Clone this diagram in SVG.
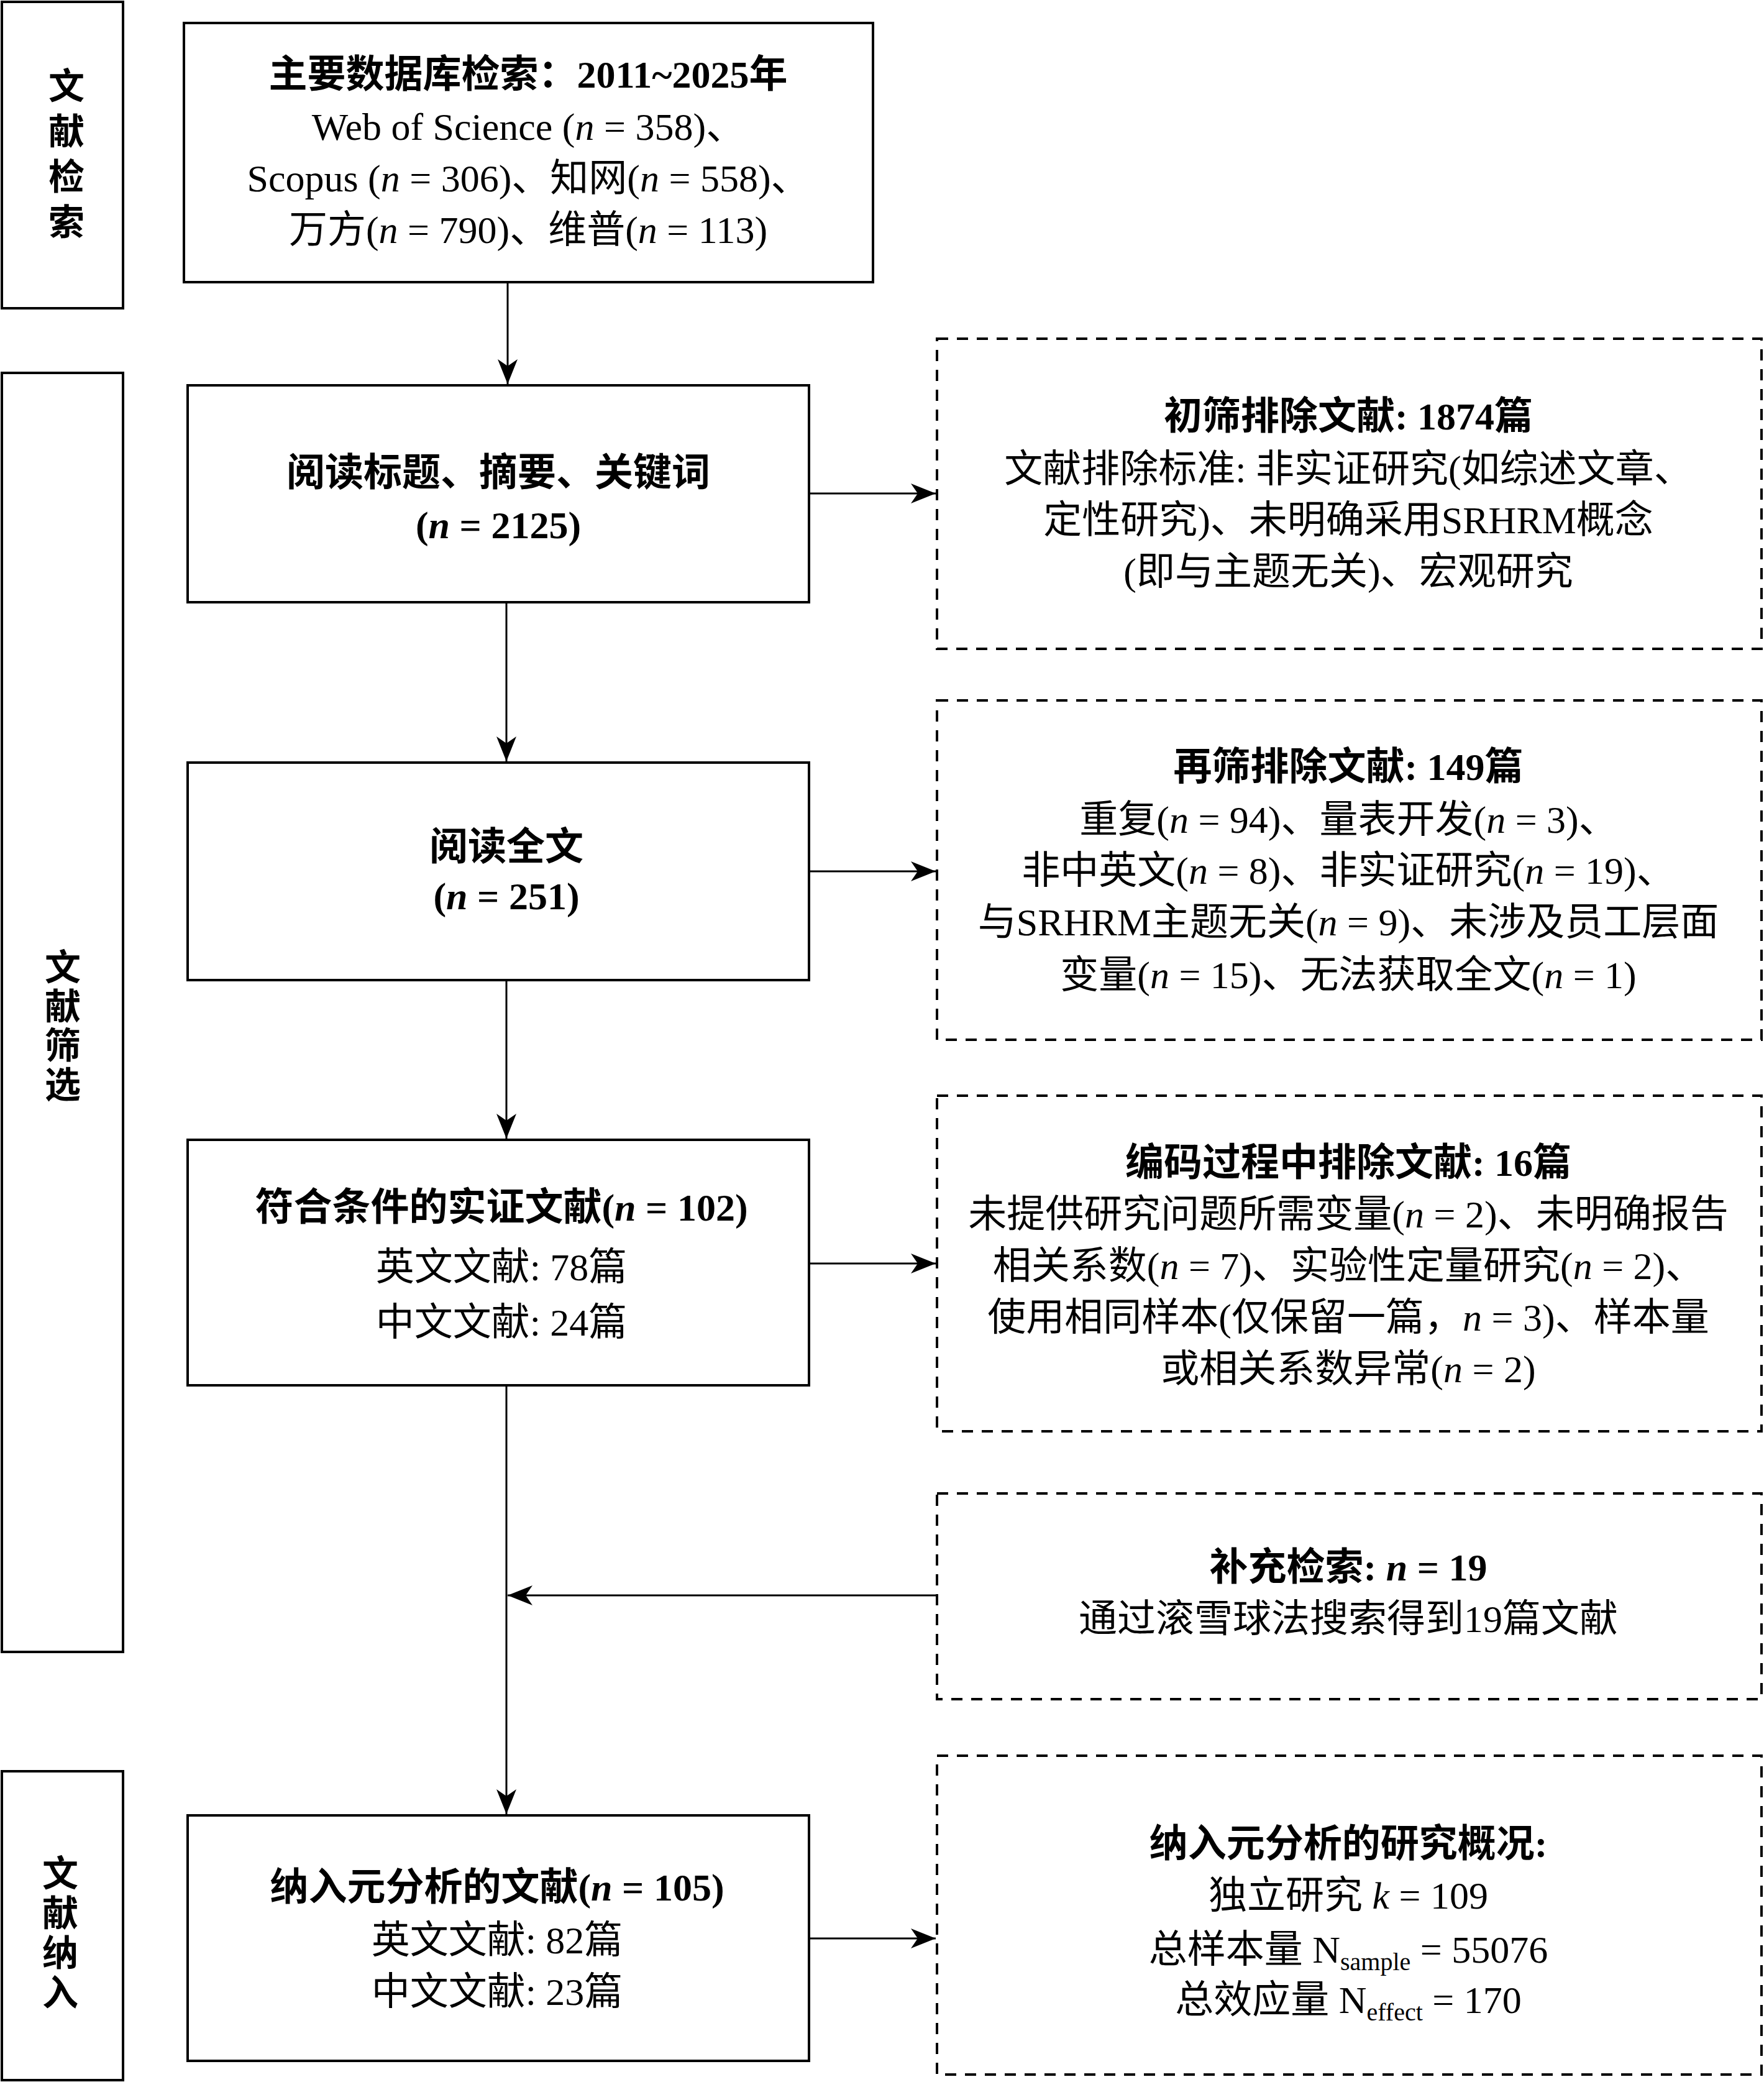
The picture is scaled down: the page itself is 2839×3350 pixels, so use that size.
<svg xmlns="http://www.w3.org/2000/svg" width="2839" height="3350" viewBox="0 0 2839 3350">
<style>
.box{fill:#fff;stroke:#000;stroke-width:4}
.dbox{fill:#fff;stroke:#000;stroke-width:4;stroke-dasharray:18 14}
.t{font-family:"Liberation Serif","Noto Sans CJK SC",serif;font-size:62px;text-anchor:middle;fill:#000}
.b{font-weight:bold}
.i{font-style:italic}
.side{font-family:"Noto Sans CJK SC",sans-serif;font-weight:bold;font-size:58px;text-anchor:start;fill:#000;writing-mode:vertical-rl;text-orientation:upright}
.conn{stroke:#000;stroke-width:3;fill:none}
</style>
<defs>
<marker id="arr" markerUnits="userSpaceOnUse" markerWidth="44" markerHeight="36" viewBox="-42 -18 44 36" refX="0" refY="0" orient="auto">
<path d="M0,0 L-40,-16 L-29,0 L-40,16 Z" fill="#000"/>
</marker>
</defs>
<rect width="2839" height="3350" fill="#fff"/>

<g id="stage-retrieval">
<rect class="box" x="3" y="3" width="195" height="493"/>
<text class="side" x="107" y="108" letter-spacing="15">文献检索</text>
</g>
<g id="stage-screening">
<rect class="box" x="3" y="600" width="195" height="2058"/>
<text class="side" x="101" y="1526" letter-spacing="5">文献筛选</text>
</g>
<g id="stage-inclusion">
<rect class="box" x="3" y="2850" width="195" height="497"/>
<text class="side" x="97" y="2984" letter-spacing="6">文献纳入</text>
</g>

<g id="connectors">
<line class="conn" x1="817" y1="454" x2="817" y2="618" marker-end="url(#arr)"/>
<line class="conn" x1="815" y1="969" x2="815" y2="1225" marker-end="url(#arr)"/>
<line class="conn" x1="815" y1="1577" x2="815" y2="1832" marker-end="url(#arr)"/>
<line class="conn" x1="815" y1="2229" x2="815" y2="2919" marker-end="url(#arr)"/>
<line class="conn" x1="1508" y1="2567" x2="817" y2="2567" marker-end="url(#arr)"/>
<line class="conn" x1="1302" y1="794" x2="1506" y2="794" marker-end="url(#arr)"/>
<line class="conn" x1="1302" y1="1402" x2="1506" y2="1402" marker-end="url(#arr)"/>
<line class="conn" x1="1302" y1="2033" x2="1506" y2="2033" marker-end="url(#arr)"/>
<line class="conn" x1="1302" y1="3119" x2="1506" y2="3119" marker-end="url(#arr)"/>
</g>

<g id="search">
<rect class="box" x="296" y="37" width="1109" height="417"/>
<text class="t b" x="850" y="141">主要数据库检索：2011~2025年</text>
<text class="t" x="850" y="225">Web of Science (<tspan class="i">n</tspan> = 358)、</text>
<text class="t" x="850" y="308">Scopus (<tspan class="i">n</tspan> = 306)、知网(<tspan class="i">n</tspan> = 558)、</text>
<text class="t" x="850" y="391">万方(<tspan class="i">n</tspan> = 790)、维普(<tspan class="i">n</tspan> = 113)</text>
</g>

<g id="title-screen">
<rect class="box" x="302" y="620" width="1000" height="349"/>
<text class="t b" x="802" y="782">阅读标题、摘要、关键词</text>
<text class="t b" x="802" y="866">(<tspan class="i">n</tspan> = 2125)</text>
</g>

<g id="fulltext">
<rect class="box" x="302" y="1227" width="1000" height="350"/>
<text class="t b" x="815" y="1384">阅读全文</text>
<text class="t b" x="815" y="1463">(<tspan class="i">n</tspan> = 251)</text>
</g>

<g id="eligible">
<rect class="box" x="302" y="1834" width="1000" height="395"/>
<text class="t b" x="807" y="1964">符合条件的实证文献(<tspan class="i">n</tspan> = 102)</text>
<text class="t" x="807" y="2060">英文文献: 78篇</text>
<text class="t" x="807" y="2149">中文文献: 24篇</text>
</g>

<g id="included">
<rect class="box" x="302" y="2921" width="1000" height="395"/>
<text class="t b" x="800" y="3058">纳入元分析的文献(<tspan class="i">n</tspan> = 105)</text>
<text class="t" x="800" y="3143">英文文献: 82篇</text>
<text class="t" x="800" y="3226">中文文献: 23篇</text>
</g>

<g id="excl-initial">
<rect class="dbox" x="1508" y="545" width="1327" height="499"/>
<text class="t b" x="2170" y="691">初筛排除文献: 1874篇</text>
<text class="t" x="2170" y="776">文献排除标准: 非实证研究(如综述文章、</text>
<text class="t" x="2170" y="858">定性研究)、未明确采用SRHRM概念</text>
<text class="t" x="2170" y="941">(即与主题无关)、宏观研究</text>
</g>

<g id="excl-second">
<rect class="dbox" x="1508" y="1127" width="1327" height="546"/>
<text class="t b" x="2170" y="1255">再筛排除文献: 149篇</text>
<text class="t" x="2170" y="1340">重复(<tspan class="i">n</tspan> = 94)、量表开发(<tspan class="i">n</tspan> = 3)、</text>
<text class="t" x="2170" y="1422">非中英文(<tspan class="i">n</tspan> = 8)、非实证研究(<tspan class="i">n</tspan> = 19)、</text>
<text class="t" x="2170" y="1505">与SRHRM主题无关(<tspan class="i">n</tspan> = 9)、未涉及员工层面</text>
<text class="t" x="2170" y="1590">变量(<tspan class="i">n</tspan> = 15)、无法获取全文(<tspan class="i">n</tspan> = 1)</text>
</g>

<g id="excl-coding">
<rect class="dbox" x="1508" y="1763" width="1327" height="540"/>
<text class="t b" x="2170" y="1892">编码过程中排除文献: 16篇</text>
<text class="t" x="2170" y="1975">未提供研究问题所需变量(<tspan class="i">n</tspan> = 2)、未明确报告</text>
<text class="t" x="2170" y="2058">相关系数(<tspan class="i">n</tspan> = 7)、实验性定量研究(<tspan class="i">n</tspan> = 2)、</text>
<text class="t" x="2170" y="2141">使用相同样本(仅保留一篇，<tspan class="i">n</tspan> = 3)、样本量</text>
<text class="t" x="2170" y="2224">或相关系数异常(<tspan class="i">n</tspan> = 2)</text>
</g>

<g id="supplement">
<rect class="dbox" x="1508" y="2403" width="1327" height="331"/>
<text class="t b" x="2170" y="2543">补充检索: <tspan class="i">n</tspan> = 19</text>
<text class="t" x="2170" y="2626">通过滚雪球法搜索得到19篇文献</text>
</g>

<g id="summary">
<rect class="dbox" x="1508" y="2825" width="1327" height="513"/>
<text class="t b" x="2170" y="2988">纳入元分析的研究概况:</text>
<text class="t" x="2170" y="3071">独立研究 <tspan class="i">k</tspan> = 109</text>
<text class="t" x="2170" y="3158">总样本量 N<tspan font-size="40" dy="12">sample</tspan><tspan dy="-12"> = 55076</tspan></text>
<text class="t" x="2170" y="3239">总效应量 N<tspan font-size="40" dy="12">effect</tspan><tspan dy="-12"> = 170</tspan></text>
</g>
</svg>
